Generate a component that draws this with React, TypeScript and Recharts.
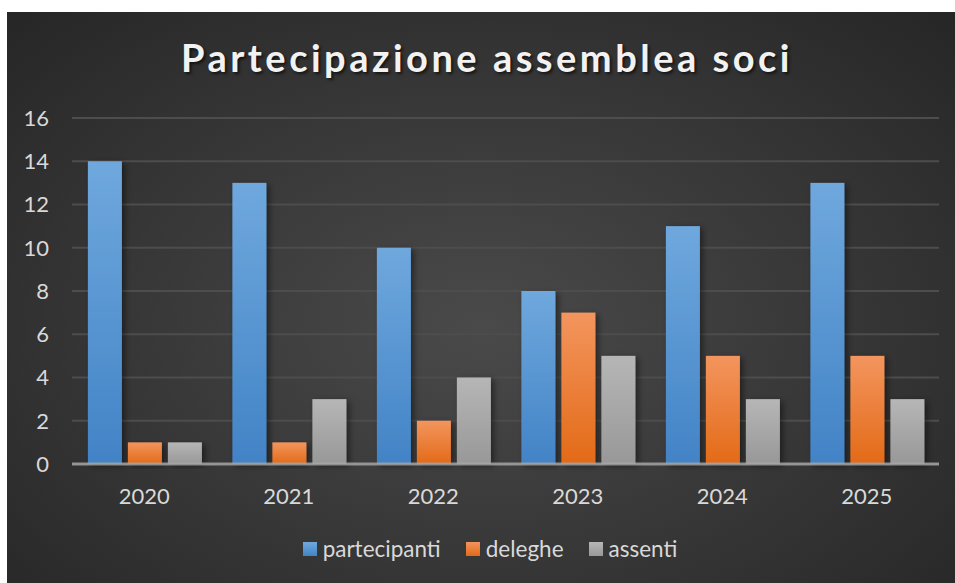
import React from 'react';
import { BarChart, Bar, XAxis, YAxis, CartesianGrid, Legend, ReferenceLine } from 'recharts';

const years = ['2020', '2021', '2022', '2023', '2024', '2025'];
const partecipanti = [14, 13, 10, 8, 11, 13];
const deleghe = [1, 1, 2, 7, 5, 5];
const assenti = [1, 3, 4, 5, 3, 3];
const yTicks = [0, 2, 4, 6, 8, 10, 12, 14, 16];

const series = [
  { key: 'partecipanti', grad: 'gBlue', top: '#6fa8dd', bottom: '#4283c6' },
  { key: 'deleghe', grad: 'gOrange', top: '#f3955e', bottom: '#e36a17' },
  { key: 'assenti', grad: 'gGray', top: '#b6b6b6', bottom: '#989898' },
];

const data = years.map((year, i) => ({
  year,
  partecipanti: partecipanti[i],
  deleghe: deleghe[i],
  assenti: assenti[i],
}));

const FONT = 'Lato, "Open Sans", sans-serif';

const ShadowRect = (props: any) => {
  const { x, y, width, height, fill } = props;
  if (!height || height <= 0) return null;
  return <rect x={x} y={y} width={width} height={height} fill={fill} filter="url(#barShadow)" />;
};

const LegendContent = () => (
  <div style={{ display: 'flex', justifyContent: 'center', alignItems: 'center', fontFamily: FONT, fontSize: 22.5, color: '#d9d9d9', paddingLeft: 34 }}>
    {series.map((s, i) => (
      <div key={s.key} style={{ display: 'flex', alignItems: 'center', marginLeft: i === 0 ? 0 : 25 }}>
        <div style={{ width: 14, height: 14, background: `linear-gradient(${s.top}, ${s.bottom})`, marginRight: 6 }} />
        <span>{s.key}</span>
      </div>
    ))}
  </div>
);

export default function App() {
  return (
    <div
      style={{
        position: 'absolute',
        left: 7,
        top: 12,
        width: 948,
        height: 571,
        overflow: 'hidden',
        background: 'radial-gradient(ellipse farthest-corner at 50% 55%, #4a4a4a 0%, #262626 100%)',
      }}
    >
      <div
        style={{
          position: 'absolute',
          top: 22,
          left: 6,
          width: 948,
          textAlign: 'center',
          fontFamily: FONT,
          fontWeight: 700,
          fontSize: 38,
          letterSpacing: 3.5,
          color: '#f2f2f2',
          textShadow: '2px 2px 3px rgba(0,0,0,0.6)',
        }}
      >
        Partecipazione assemblea soci
      </div>
      <BarChart
        width={948}
        height={571}
        data={data}
        margin={{ top: 106, right: 16, left: 0, bottom: 42 }}
        barCategoryGap="11%"
        barGap={6}
        style={{ position: 'absolute', top: 0, left: 0 }}
      >
        <defs>
          {series.map((s) => (
            <linearGradient key={s.grad} id={s.grad} x1="0" y1="0" x2="0" y2="1">
              <stop offset="0%" stopColor={s.top} />
              <stop offset="100%" stopColor={s.bottom} />
            </linearGradient>
          ))}
          <filter id="barShadow" x="-30%" y="-10%" width="160%" height="130%">
            <feDropShadow dx="3" dy="2" stdDeviation="3" floodColor="#000" floodOpacity="0.45" />
          </filter>
        </defs>
        <CartesianGrid vertical={false} stroke="#4d4d4d" strokeWidth={2} />
        <XAxis
          dataKey="year"
          axisLine={false}
          tickLine={false}
          tickSize={0}
          tickMargin={24}
          height={50}
          tick={{ fill: '#d9d9d9', fontSize: 22, fontFamily: FONT }}
        />
        <YAxis
          domain={[0, 16]}
          ticks={yTicks}
          axisLine={false}
          tickLine={false}
          tickSize={0}
          tickMargin={23}
          width={65}
          tick={{ fill: '#d9d9d9', fontSize: 22, fontFamily: FONT }}
        />
        {series.map((s) => (
          <Bar key={s.key} dataKey={s.key} fill={`url(#${s.grad})`} shape={ShadowRect} isAnimationActive={false} />
        ))}
        <ReferenceLine y={0} stroke="#a8a8a8" strokeWidth={3} strokeOpacity={0.8} />
        <Legend verticalAlign="bottom" content={<LegendContent />} wrapperStyle={{ bottom: 21 }} />
      </BarChart>
    </div>
  );
}
